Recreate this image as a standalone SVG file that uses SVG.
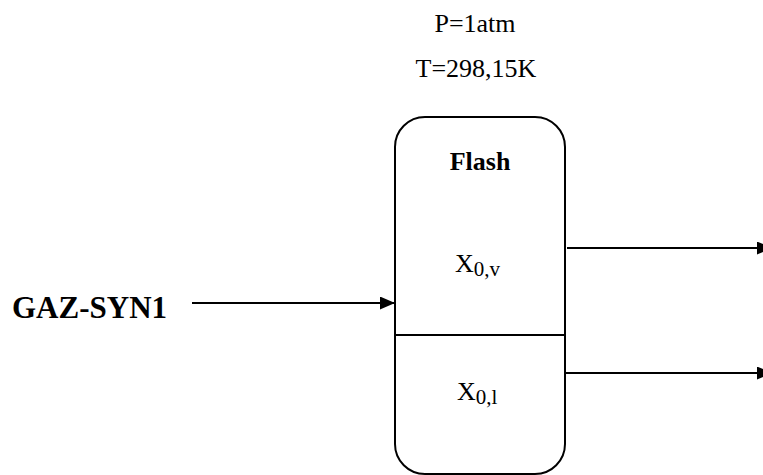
<svg xmlns="http://www.w3.org/2000/svg" width="763" height="475" viewBox="0 0 763 475">
<style>
.t{font-family:"Liberation Serif","Times New Roman",serif;fill:#000}
.b{font-weight:bold}
.ln{stroke:#000;stroke-width:2;fill:none}
</style>
<defs>
<marker id="ah" markerWidth="15" markerHeight="13" refX="15" refY="6.5" orient="auto" markerUnits="userSpaceOnUse">
<path d="M0,0 L15,6.5 L0,13 Z" fill="#000"/>
</marker>
</defs>
<rect width="763" height="475" fill="#fff"/>
<g id="conditions">
<text class="t" x="475" y="32" font-size="26" text-anchor="middle">P=1atm</text>
<text class="t" x="476" y="77" font-size="26" text-anchor="middle">T=298,15K</text>
</g>
<g id="flash">
<rect class="ln" x="395" y="117" width="170" height="357" rx="30" ry="30"/>
<line class="ln" x1="395" y1="335" x2="565" y2="335" stroke-width="1.5"/>
<text class="t b" x="480" y="170" font-size="26" text-anchor="middle">Flash</text>
<text class="t" x="455" y="272" font-size="26">X<tspan font-size="21" dy="4">0,v</tspan></text>
<text class="t" x="457" y="400" font-size="26">X<tspan font-size="21" dy="4">0,l</tspan></text>
</g>
<g id="feed">
<text class="t b" x="12" y="318" font-size="31">GAZ-SYN1</text>
</g>
<g id="connectors">
<line class="ln" x1="192" y1="303" x2="395" y2="303" marker-end="url(#ah)"/>
<line class="ln" x1="567" y1="248" x2="772" y2="248" marker-end="url(#ah)"/>
<line class="ln" x1="565" y1="373" x2="772" y2="373" marker-end="url(#ah)"/>
</g>
</svg>
